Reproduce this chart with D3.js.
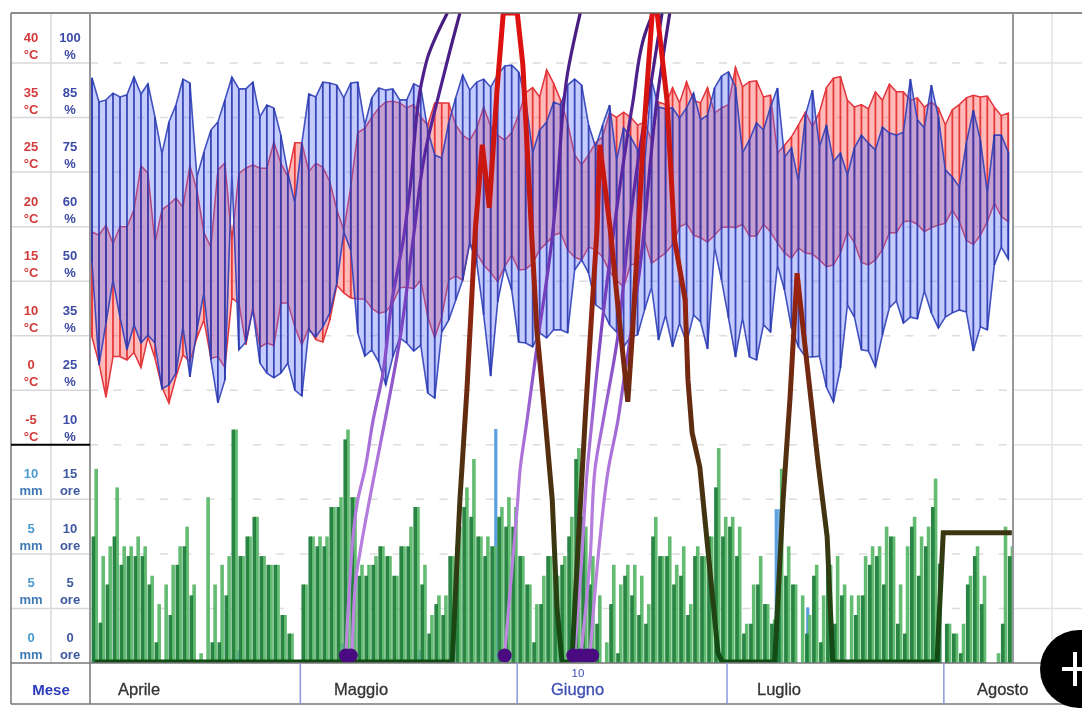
<!DOCTYPE html>
<html>
<head>
<meta charset="utf-8" />
<style>
    html, body { margin: 0; padding: 0; background: #fff; overflow: hidden; }
    svg { display: block; filter: blur(0.45px); }
    text { font-family: "Liberation Sans", Arial, sans-serif; }
</style>
</head>
<body>
<svg id="chart" width="1082" height="715"></svg>
<script src="https://cdnjs.cloudflare.com/ajax/libs/d3/7.8.5/d3.min.js"></script>
<script>
// tick labels, one per row of the left panel
var tempTicks = ['40','35','25','20','15','10','0','-5'];
var humTicks = ['100','85','75','60','50','35','25','10'];
var rainTicks = ['10','5','5','0'];
var sunTicks = ['15','10','5','0'];
var months = ['Aprile','Maggio','Giugno','Luglio','Agosto'];
var monthStartDays = [30,61,91,122];

// one value per day from 1 April
var humMax = [96.5,90.8,91.3,92.9,92,92.5,96.7,92.7,95.1,87.3,78.6,86.1,90.1,96.2,95.3,73.1,79,84.2,86.1,91.3,96.7,93.9,93.9,95.5,87.3,90.1,89.4,83,74.1,67,81.1,92.7,92,95.5,95.3,94.8,91.8,95.3,95.5,
    85.4,91.8,94.1,93.6,93.9,91.3,91.3,95.1,94.3,84.2,78.3,77.6,85.9,91.8,97.2,93.6,95.5,96.2,94.3,97.2,99.3,99.5,97.9,91.3,78.8,84.2,86.1,90.8,90.1,94.8,96.2,94.8,85.4,80.2,85.4,90.1,77.1,84.7,82.6,79.5,76,96,89.6,89.2,89.4,87,89.4,92.9,86.6,87.7,94.1,
    96.9,97.9,94.3,78.8,81.9,85.9,84.2,89.6,94.1,77.8,80,72,87.7,93.6,80.2,85.4,76.7,78.8,73.6,80,83,81.1,79.5,84.9,83.5,83,83.7,96.2,86.6,84.7,94.8,87.3,74.8,73.1,70.8,81.1,88.9,81.9,69.4,83,83,79];
var humMin = [52.9,28.8,38.7,48.9,40.1,32.4,38.3,34,35.9,34,23.2,24.1,26.9,37.8,26,37.1,45.8,30,19.9,25.3,74.1,32.4,34.2,41.8,29.3,26.9,25.8,26.9,29.3,22.9,21.5,37.1,35.4,37.8,41.1,48.1,60.2,55.9,36.4,
    30.9,32.4,29.5,24.1,30.7,35.2,34,32.1,33.5,22.2,21,36.6,39.4,44.1,48.9,57.6,52.9,40.6,26.2,43.7,51.9,46.5,34.2,34,33.1,36.4,35.2,37.1,37.1,36.4,51.2,53.6,50.5,43,41.8,38.3,36.6,33.1,35.4,35.9,41.8,47.2,34.7,40.6,33.1,38.7,34,40.6,39,32.6,56.6,
    48.9,39.9,30.7,39.9,30.7,30,38.3,36.6,52.4,46.5,37.5,33.1,30.7,30.7,30.9,23.6,20.1,28.1,43,40.1,32.4,32.1,28.4,35.9,42.3,43.9,38.7,40.1,39.7,46.3,41.1,37.5,40.1,41.1,41.8,41.3,32.1,37.8,37.1,52.4,56.6,53.8];
var tempMax = [20.1,19.7,20.9,18.7,20.7,20.7,22.7,27.9,27,18.8,22.7,23.3,24.1,23,27.9,25,20,18.3,27.4,28.2,19.1,27,27.6,28,27.6,27.6,30.7,28.2,26.6,30.6,30.6,27.2,28.2,27.7,26,22.7,20.3,25.4,31.8,
    32.3,33.6,34.7,35.4,35.5,35.3,34.7,35.1,33.6,32.7,35.3,35.3,35.3,32.7,31.5,30.9,32.3,34.8,32.5,31.5,30.9,31.8,33.9,36.5,37.1,36,39.2,37.6,35.6,32.9,29.2,28,29.2,30.6,31.3,34.1,33.6,34.2,33.6,32.7,33,30.9,35.4,35.1,37.1,35.3,37.8,35.6,35.3,37.1,34.1,
    34.7,35.1,39.5,37.2,37.8,37.9,36,36.2,29.4,30.3,31.3,32.7,34.2,32.5,34.2,37.1,38.2,38.4,35.6,34.8,35.1,34.6,36.6,35.6,37.5,36.6,36.6,35.6,35.9,34.8,35.4,34.7,32.7,34.5,35.1,35.9,36.2,36,36.1,34.8,33.8,34.1];
var tempMin = [7.7,4.6,0.6,5.4,5.4,5,5.9,4.1,7.7,5.2,1.8,-0.1,3,5.6,4.8,7.6,9.7,5.2,5.4,4.1,12.3,11.7,6.8,11.2,6.5,7,6.7,11.7,11.7,8.9,6.8,8.8,7.4,7.1,9.7,13.8,12.9,12.3,12.2,
    12.2,11.1,10.5,10.7,11.7,13.5,13.6,13.4,14.4,10.1,7.6,10.1,14.4,14.9,14.4,18.8,17.6,16.2,15.3,14.2,16,17.4,15.6,15.7,16.4,18,18.8,19.7,20,18,17.1,16.8,18.3,18,17.1,15.4,14.4,13.6,16.2,16.4,19.1,16.4,17,17.6,18.6,20.7,21.1,19.7,19.4,18.9,19.7,
    20.6,20.7,20.6,21,19.6,19.6,21,20.1,18.8,17.6,17,18.2,17.6,17.5,16.8,16,16.2,17.6,20.1,18.8,16.5,16.2,16.8,18,20,20,21.3,21.4,21,20.1,20.6,20.9,21.1,22.7,21.3,19.1,18.6,19.7,21.3,23.5,21.9,21.3];

// two sunshine readings per day
var sunDark = [11.6,3.7,7.2,11.6,9,9.8,9.8,9.8,7.2,1.9,0,4.4,9,10.7,6.2,0,0,1.9,1.9,6.2,21.4,9.8,11.6,13.4,9.8,9,9,4.4,2.7,0,7.2,11.6,10.7,10.7,14.3,14.3,20.5,15.2,8,
    8,9,10.7,9.8,8,10.7,10.7,14.3,7.2,2.7,5.4,4.4,9.8,10.7,14.3,13.4,11.6,9.8,10.7,13.4,12.5,12.5,9.8,7.2,1.9,5.4,9.8,8,9,11.6,18.7,13.4,7.2,3.6,0,5.4,0.9,8,6.2,4.4,3.6,11.6,9.8,9.8,7.2,8,4.4,9.8,9.8,11.6,16.1,
    11.6,12.5,9.8,2.7,3.6,7.2,5.4,3.6,7.2,8,7.2,0,2.7,8,1.9,9,3.6,6.2,0,4.4,6.2,9,9.8,7.2,11.6,3.6,2.7,12.5,8,10.7,14.3,9.1,3.6,2.7,0.9,7.2,9.8,5.4,0,0,3.6,9.8,11.6];
var sunLight = [17.8,9.8,10.7,16.1,10.7,10.7,11.6,10.7,8,5.4,7.2,9,10.7,12.5,7.2,0.9,15.2,7.2,9,9.8,21.4,9.8,11.6,13.4,9.8,9,9,4.4,2.7,0,7.2,11.6,11.6,11.6,14.3,15.2,21.4,15.2,9,
    9,9.8,10.7,9.8,8,10.7,12.5,14.3,9,4.4,6.2,6.2,9.8,12.5,16.1,18.7,11.6,11.6,10.7,14.3,15.2,14.3,9.8,7.2,5.4,8,9.8,8,9.8,13.4,19.7,12.5,9.8,6.2,1.9,9,7.2,9,9,8,5.4,13.4,9.8,11.6,9,10.7,5.4,10.7,9.8,11.6,19.7,
    13.4,13.4,12.5,3.6,7.2,9.8,5.4,4,17.8,10.7,7.2,6.2,4.4,9,6.2,9,9.8,7.2,6.2,6.2,9.8,10.7,10.7,12.5,11.6,7.2,10.7,13.4,11.6,12.5,16.9,0,3.6,2.7,3.6,8,10.7,8,0,0.9,12.5,10.7,14.3];

// rain only on a few days
var rainDays = [-0.5,20,35,46,57,66,97.1,97.6,101.6,120];
var rainValues = [1.4,0.8,1.2,0.8,14.3,1.2,9.4,9.4,3.4,1.8];

// thick index line: day and level, levels above 100 run off the chart
var indexDays = [0.4,51.5,52.6,53.6,54.8,55.8,56.8,57.9,58.8,60.8,61.6,62.9,63.6,64.5,64.8,65.8,66.5,67.2,68.6,69.7,70.5,71.2,72.2,72.6,74.1,75.2,76.6,77.3,78.1,78.8,80.1,80.8,82.2,83.3,84.8,85.2,85.8,86.9,89.5,90.1,97.6,98.8,99.8,100.8,102.2,103.8,105.1,105.9,120.8,121.7,131.5];
var indexLevels = [0,0,25,41.9,66.6,79.7,70,88.1,100,100,92,65,51.2,40.8,37.3,25,8,0,0,21.9,37.3,49.6,66.6,79.7,66.6,54.7,40.1,51.2,66.6,80.4,100,100,86.6,65,55.8,43.5,35.3,30,1.4,0,0,25,40.8,59.9,46.1,30.7,19.3,0,0,19.9,19.9];

// purple curves, each starts at one of the dots
var curveADays = [36.3,36.7,38,39,40.2,41.5,42.9,44.5,45.5,47.2,48,50.8];
var curveALevels = [1.1,9.6,25,29.6,37.3,43.9,55.8,65,73.2,89.7,93.2,100];
var curveBDays = [37.2,37.7,38.3,40.5,41.9,44,45.9,47.6,50,51.2,52.6];
var curveBLevels = [1.1,12.6,16.8,29.6,37.3,49.6,65,78.4,89.2,94.3,100];
var curveCDays = [59,59.9,60.8,61.2,62.2,63.6,65.8,66.5,68,69.8];
var curveCLevels = [1.1,12.6,23.9,29.6,37.3,48.5,65.5,73.2,90.8,100];
var curveDDays = [69,70,70.8,71.5,73.1,75.2,77.3,79.1,80.2];
var curveDLevels = [1.1,15.7,29.6,37.3,53.8,71.2,86.1,96.9,100];
var curveEDays = [69.9,71.2,71.9,73.1,75.1,76.6,78.3,80.1,81.5];
var curveELevels = [1.1,15.7,29.6,37.3,49.6,65,78.9,90.4,100];
var curveFDays = [71.2,72.6,73.8,75.2,75.9,78.3,80.9,82.6];
var curveFLevels = [1.1,18.8,29.6,37.3,42.4,60.4,87.7,100];
var dotDays = [36.3,37,59,68.8,69.8,70.8,71.5];

var svg = d3.select('#chart');

var x = d3.scaleLinear().domain([0,131]).range([92,1008.3]);
var row = d3.scaleLinear().domain([0,11]).range([63,663]);
var yTemp = d3.scaleLinear().domain([40,-5]).range([row(0),row(7)]);
var yHum = d3.scaleLinear().domain([100,10]).range([row(0),row(7)]);
var ySun = d3.scaleLinear().domain([0,15]).range([row(11),row(8)]);
var yRain = d3.scaleLinear().domain([0,10]).range([row(11),row(8)]);
var yIndex = d3.scaleLinear().domain([0,100]).range([662,13]);

var defs = svg.append('defs');
defs.append('clipPath').attr('id','plot').append('rect')
    .attr('x',90).attr('y',13).attr('width',923).attr('height',650);

function vGradient(id, stops){
    var g = defs.append('linearGradient').attr('id',id)
        .attr('gradientUnits','userSpaceOnUse')
        .attr('x1',0).attr('x2',0).attr('y1',662).attr('y2',13);
    stops.forEach(function(s){
        g.append('stop').attr('offset',s[0]).attr('stop-color',s[1]);
    });
}
vGradient('indexGrad',[[0,'#0f4d14'],[0.2,'#3c3510'],[0.37,'#5e2c10'],[0.55,'#8f2410'],[0.68,'#c01a10'],[1,'#e21010']]);
vGradient('curveGrad',[[0,'#c08ae0'],[0.3,'#b078dc'],[0.5,'#8048c4'],[0.75,'#5a28a4'],[1,'#451c7c']]);

// grid
var grid = svg.append('g');
d3.range(0,11).forEach(function(i){
    grid.append('line').attr('x1',11).attr('x2',90).attr('y1',row(i)).attr('y2',row(i))
        .attr('stroke','#d8d8d8').attr('stroke-width',1.5);
    grid.append('line').attr('x1',1013).attr('x2',1082).attr('y1',row(i)).attr('y2',row(i))
        .attr('stroke','#e2e2e2').attr('stroke-width',1.5);
    grid.append('line').attr('x1',90).attr('x2',1013).attr('y1',row(i)).attr('y2',row(i))
        .attr('stroke','#dcdcdc').attr('stroke-width',1.5).attr('stroke-dasharray','8 15.3');
});
grid.append('line').attr('x1',51).attr('x2',51).attr('y1',13).attr('y2',663).attr('stroke','#d8d8d8').attr('stroke-width',1.5);
grid.append('line').attr('x1',1052).attr('x2',1052).attr('y1',13).attr('y2',640).attr('stroke','#e4e4e4').attr('stroke-width',1.5);

var plot = svg.append('g').attr('clip-path','url(#plot)');

// sunshine and rain
plot.selectAll('.rain').data(rainDays).enter().append('rect')
    .attr('class','rain')
    .attr('x',function(d){ return x(d)+3.5; })
    .attr('width',3.2)
    .attr('y',function(d,i){ return yRain(rainValues[i]); })
    .attr('height',function(d,i){ return yRain(0)-yRain(rainValues[i]); })
    .attr('fill','#5a9fe0');
plot.selectAll('.sun-light').data(sunLight).enter().append('rect')
    .attr('class','sun-light')
    .attr('x',function(d,i){ return x(i)+2.4; })
    .attr('width',3.6)
    .attr('y',function(d){ return ySun(d); })
    .attr('height',function(d){ return ySun(0)-ySun(d); })
    .attr('fill','#5cb86c').attr('fill-opacity',0.95);
plot.selectAll('.sun-dark').data(sunDark).enter().append('rect')
    .attr('class','sun-dark')
    .attr('x',function(d,i){ return x(i)-0.4; })
    .attr('width',3.6)
    .attr('y',function(d){ return ySun(d); })
    .attr('height',function(d){ return ySun(0)-ySun(d); })
    .attr('fill','#1d7d38').attr('fill-opacity',0.94);

// temperature band, red goes under the blue
var tempArea = d3.area().x(function(d,i){ return x(i); })
    .y0(function(d,i){ return yTemp(tempMin[i]); })
    .y1(function(d,i){ return yTemp(tempMax[i]); });
var humArea = d3.area().x(function(d,i){ return x(i); })
    .y0(function(d,i){ return yHum(humMin[i]); })
    .y1(function(d,i){ return yHum(humMax[i]); });

plot.append('path').attr('d',tempArea(tempMax)).attr('fill','rgb(255,90,90)').attr('fill-opacity',0.42)
    .attr('stroke','#e2343c').attr('stroke-width',1.5);
plot.selectAll('.temp-bar').data(tempMax).enter().append('line')
    .attr('class','temp-bar')
    .attr('x1',function(d,i){ return x(i); }).attr('x2',function(d,i){ return x(i); })
    .attr('y1',function(d){ return yTemp(d); })
    .attr('y2',function(d,i){ return yTemp(tempMin[i]); })
    .attr('stroke','#e63a3a').attr('stroke-width',1.8);

plot.append('path').attr('d',humArea(humMax)).attr('fill','rgb(95,115,255)').attr('fill-opacity',0.36)
    .attr('stroke','#2f40b8').attr('stroke-opacity',0.9).attr('stroke-width',1.6);
plot.selectAll('.hum-bar').data(humMax).enter().append('line')
    .attr('class','hum-bar')
    .attr('x1',function(d,i){ return x(i); }).attr('x2',function(d,i){ return x(i); })
    .attr('y1',function(d){ return yHum(d); })
    .attr('y2',function(d,i){ return yHum(humMin[i]); })
    .attr('stroke','#2a38ae').attr('stroke-opacity',0.9).attr('stroke-width',1.8);

// purple curves with their dots
var curve = d3.line()
    .x(function(d){ return x(d[0]); })
    .y(function(d){ return yIndex(d[1]); })
    .curve(d3.curveMonotoneY);
[[curveADays,curveALevels],[curveBDays,curveBLevels],[curveCDays,curveCLevels],
 [curveDDays,curveDLevels],[curveEDays,curveELevels],[curveFDays,curveFLevels]].forEach(function(c){
    plot.append('path').attr('d',curve(d3.zip(c[0],c[1])))
        .attr('fill','none').attr('stroke','url(#curveGrad)').attr('stroke-width',3.2);
});

// thick index line
var indexLine = d3.line()
    .x(function(d){ return x(d[0]); })
    .y(function(d){ return yIndex(d[1]); });
plot.append('path').attr('d',indexLine(d3.zip(indexDays,indexLevels)))
    .attr('fill','none').attr('stroke','url(#indexGrad)').attr('stroke-width',5)
    .attr('stroke-linejoin','miter');

plot.selectAll('.dot').data(dotDays).enter().append('circle')
    .attr('class','dot')
    .attr('cx',function(d){ return x(d); })
    .attr('cy',yIndex(1))
    .attr('r',7)
    .attr('fill','#4a0a80');

// frame
var frame = svg.append('g').attr('stroke-width',1.5).attr('fill','none');
frame.append('line').attr('x1',11).attr('x2',1082).attr('y1',13).attr('y2',13).attr('stroke','#666');
frame.append('line').attr('x1',11).attr('x2',11).attr('y1',13).attr('y2',704).attr('stroke','#777');
frame.append('line').attr('x1',90).attr('x2',90).attr('y1',13).attr('y2',704).attr('stroke','#999').attr('stroke-width',2);
frame.append('line').attr('x1',1013).attr('x2',1013).attr('y1',13).attr('y2',663).attr('stroke','#999').attr('stroke-width',2);
frame.append('line').attr('x1',11).attr('x2',1082).attr('y1',663).attr('y2',663).attr('stroke','#777');
frame.append('line').attr('x1',11).attr('x2',1082).attr('y1',704).attr('y2',704).attr('stroke','#777');
frame.append('line').attr('x1',11).attr('x2',90).attr('y1',row(7)).attr('y2',row(7)).attr('stroke','#000').attr('stroke-width',2);

frame.selectAll('.month-sep').data(monthStartDays).enter().append('line')
    .attr('class','month-sep')
    .attr('x1',function(d){ return x(d)-1.5; }).attr('x2',function(d){ return x(d)-1.5; })
    .attr('y1',663).attr('y2',704)
    .attr('stroke','#8b97d8').attr('stroke-width',1.5);

// left panel labels
function tickColumn(labels, unit, col, firstRow, numColor, unitColor){
    labels.forEach(function(t,i){
        svg.append('text').text(t).attr('x',col).attr('y',row(firstRow+i)-21)
            .attr('text-anchor','middle').attr('font-size',13).attr('font-weight','bold').attr('fill',numColor);
        svg.append('text').text(unit).attr('x',col).attr('y',row(firstRow+i)-4)
            .attr('text-anchor','middle').attr('font-size',13).attr('font-weight','bold').attr('fill',unitColor);
    });
}
tickColumn(tempTicks,'°C',31,0,'#d43a3a','#d43a3a');
tickColumn(humTicks,'%',70,0,'#3d4aa6','#3d4aa6');
tickColumn(rainTicks,'mm',31,8,'#4a9ad0','#3f79b4');
tickColumn(sunTicks,'ore',70,8,'#3d5aa0','#3d5aa0');

svg.append('text').text('Mese').attr('x',51).attr('y',695).attr('text-anchor','middle')
    .attr('font-size',15).attr('font-weight','bold').attr('fill','#2a3ab8');

var monthLabelX = [118,334,551,757,977];
months.forEach(function(m,i){
    svg.append('text').text(m).attr('x',monthLabelX[i]).attr('y',695)
        .attr('font-size',16.5)
        .attr('stroke',i==2?'#3f4fb4':'#333').attr('stroke-width',0.3)
        .attr('fill',i==2?'#3f4fb4':'#333');
});
svg.append('text').text('10').attr('x',578).attr('y',677).attr('text-anchor','middle')
    .attr('font-size',11.5).attr('fill','#3f4fb4');

// round add button at the corner
var button = svg.append('g').attr('transform','translate(1079,669)');
button.append('circle').attr('r',39).attr('fill','#000');
button.append('line').attr('x1',-17).attr('x2',17).attr('y1',0).attr('y2',0).attr('stroke','#fff').attr('stroke-width',4);
button.append('line').attr('x1',-4).attr('x2',-4).attr('y1',-17).attr('y2',17).attr('stroke','#fff').attr('stroke-width',4);
</script>
</body>
</html>
